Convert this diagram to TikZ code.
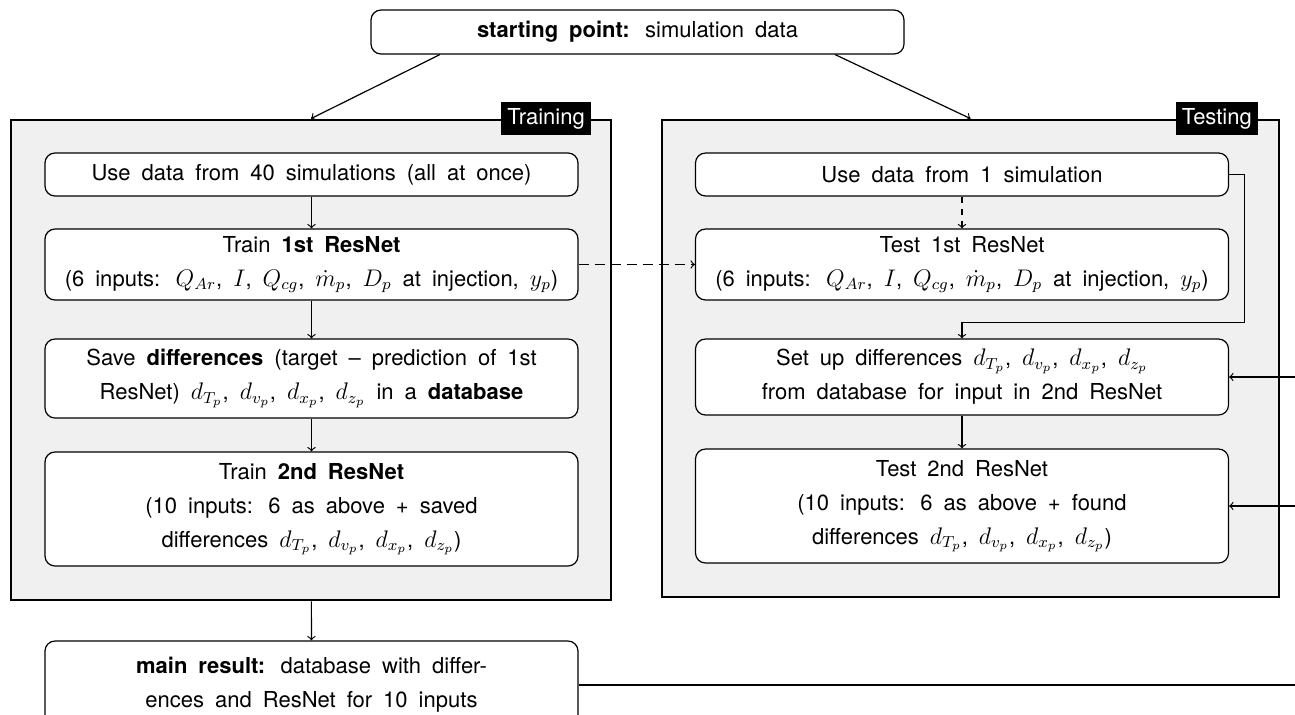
\documentclass[tikz,border=0pt]{standalone}
\usepackage{fontspec}
\setmainfont{TeX Gyre Heros}
\usetikzlibrary{calc}

\DeclareMathSizes{11}{12}{8.5}{6.5}
\newcommand{\boxfont}{\fontsize{11}{17}\selectfont\spaceskip=0.5em plus 0.1em minus 0.1em\xspaceskip=0.7em\relax}

\begin{document}
\begin{tikzpicture}[x=0.5pt,y=-0.5pt,line width=0.6pt,
                    stage/.style={draw,rounded corners=5pt,fill=white,align=center,minimum width=266.5pt,inner sep=0pt,font=\boxfont},
                    phase/.style={draw,line width=1.4pt,fill=black!6,inner sep=0pt},
                    phase header/.style={fill=black,text=white,anchor=east,minimum height=16.5pt,inner sep=3pt,font=\fontsize{11}{13}\selectfont}]
            \useasboundingbox (0,0) rectangle (1295,714);
            \clip (0,0) rectangle (1295,714);
            \node[stage,minimum height=22pt] (start) at (637.5,32) {\textbf{starting point:} simulation data};
            \node[phase,minimum width=300pt,minimum height=240pt] (training) at (311,360) {};
            \node[phase,minimum width=308.5pt,minimum height=238.5pt] (testing) at (970.5,358.5) {};
            \node[phase header] (training header) at ($ (training.north east) + (-21,0) $) {Training};
            \node[phase header] (testing header) at ($ (testing.north east) + (-22,0) $) {Testing};
            \draw[->] ($ (start.south west) ! 0.13 ! (start.south east) $) -- (training.north);
            \draw[->] ($ (start.south west) ! 0.87 ! (start.south east) $) -- (testing.north);

            \node[stage,minimum height=21.5pt] (use all) at (311.5,174.5) {Use data from 40 simulations (all at once)};
            \node[stage,minimum height=35.5pt] (train first) at (311.5,264.5) {Train \textbf{1st ResNet}\\(6 inputs: $Q_{Ar}$, $I$, $Q_{cg}$, $\dot{m}_p$, $D_p$ at injection, $y_p$)};
            \node[stage,minimum height=39.5pt] (save diff) at (311.5,378.5) {Save \textbf{differences} (target -- prediction of 1st\\ResNet) $d_{T_p}$, $d_{v_p}$, $d_{x_p}$, $d_{z_p}$ in a \textbf{database}};
            \node[stage,minimum height=57pt] (train second) at (311.5,509) {Train \textbf{2nd ResNet}\\(10 inputs: 6 as above + saved\\differences $d_{T_p}$, $d_{v_p}$, $d_{x_p}$, $d_{z_p}$)};
            \node[stage,minimum height=44pt] (result) at (311.5,685) {\textbf{main result:} database with differ-\\ences and ResNet for 10 inputs};

            \node[stage,minimum height=21.5pt] (use one) at (962,174.5) {Use data from 1 simulation};
            \node[stage,minimum height=35.5pt] (test first) at (962,264.5) {Test 1st ResNet\\(6 inputs: $Q_{Ar}$, $I$, $Q_{cg}$, $\dot{m}_p$, $D_p$ at injection, $y_p$)};
            \node[stage,minimum height=38pt] (set up) at (962,377) {Set up differences $d_{T_p}$, $d_{v_p}$, $d_{x_p}$, $d_{z_p}$\\from database for input in 2nd ResNet};
            \node[stage,minimum height=57pt] (test second) at (962,506) {Test 2nd ResNet\\(10 inputs: 6 as above + found\\differences $d_{T_p}$, $d_{v_p}$, $d_{x_p}$, $d_{z_p}$)};

            \draw[->] (use all) -- (train first);
            \draw[->] (train first) -- (save diff);
            \draw[->] (save diff) -- (train second);
            \draw[->] (training) -- (result);
            \draw[->,dash pattern=on 5pt off 3pt] (train first) -- (test first);
            \draw[->,dash pattern=on 3pt off 3pt] (use one) -- (test first);
            \coordinate (bend) at ($ (test first.south) + (0,22) $);
            \draw[->] (use one.east) -- ++(15,0) |- (bend) -- (set up.north);
            \draw[->] (set up) -- (test second);
            \coordinate (db in) at (1300,377);
            \coordinate (net in) at (1300,506);
            \coordinate (result out) at (1300,685);
            \draw[->] (db in) -- (set up.east);
            \draw[->] (net in) -- (test second.east);
            \draw (result.east) -- (result out);

        \end{tikzpicture}
\end{document}
